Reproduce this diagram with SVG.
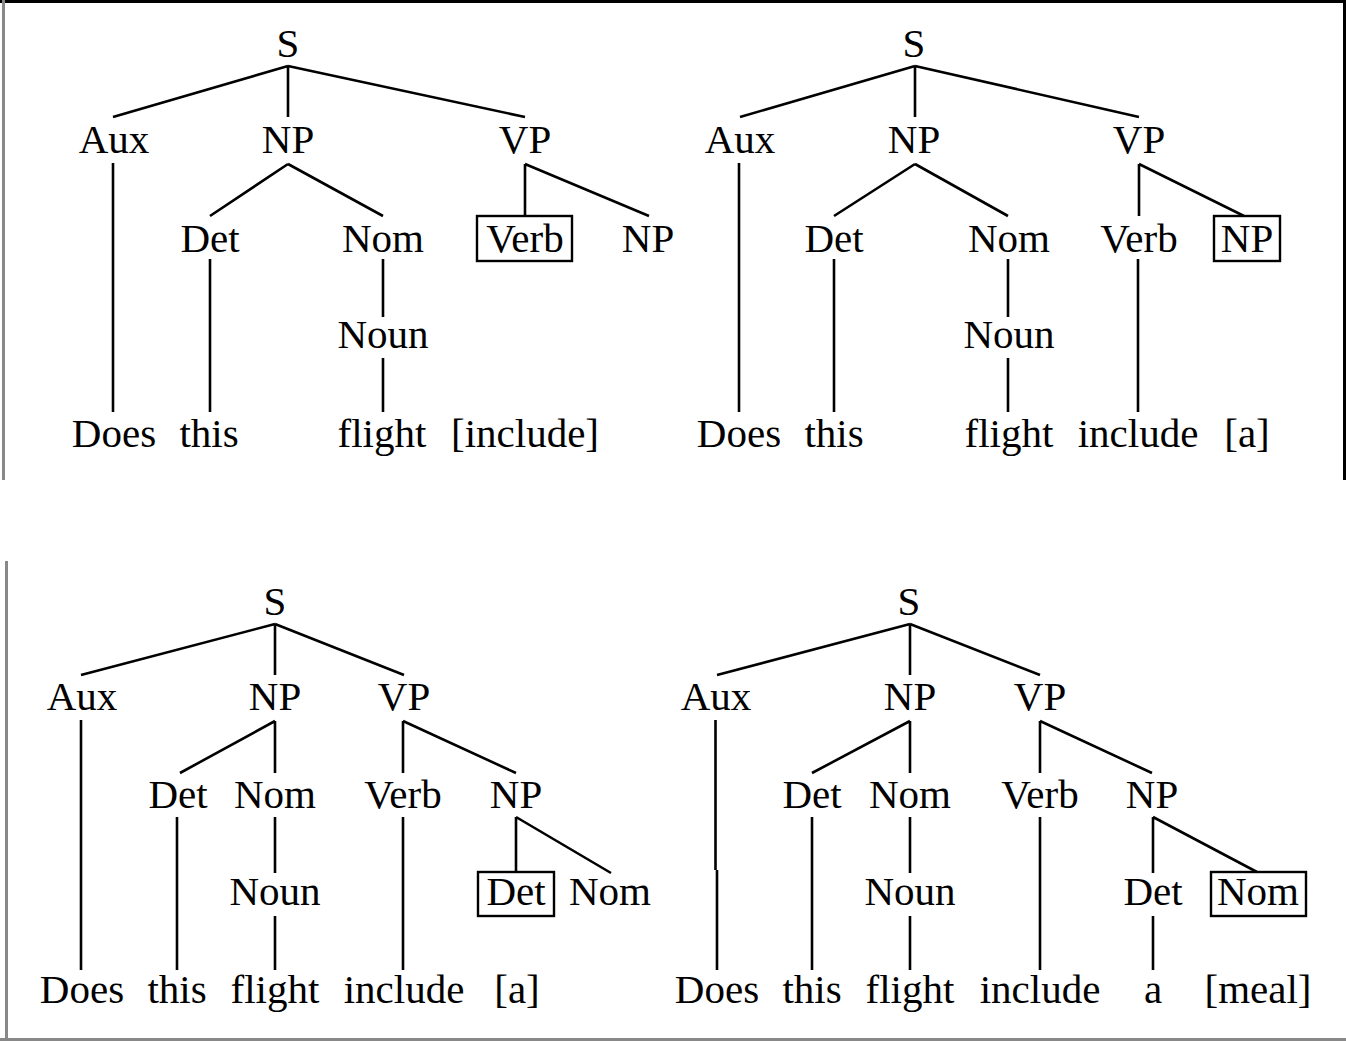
<svg xmlns="http://www.w3.org/2000/svg" width="1346" height="1041" viewBox="0 0 1346 1041">
<style>
text{font-family:"Liberation Serif","Times New Roman",serif;font-size:41px;fill:#000;text-anchor:middle}
.e{stroke:#000;stroke-width:2.6;fill:none;stroke-linecap:butt}
.box{stroke:#000;stroke-width:2.4;fill:none}
.bk{stroke:#000;stroke-width:3;fill:none}
.gr{stroke:#888;stroke-width:3;fill:none}
</style>
<rect width="1346" height="1041" fill="#fff"/>
<g id="frames">
<line class="bk" x1="0" y1="1.5" x2="1346" y2="1.5"/>
<line class="gr" x1="3.5" y1="0" x2="3.5" y2="480"/>
<line class="bk" x1="1344.5" y1="0" x2="1344.5" y2="480"/>
<line class="gr" x1="6.5" y1="561" x2="6.5" y2="1041"/>
<line class="gr" x1="0" y1="1039.5" x2="1346" y2="1039.5"/>
</g>
<g id="connectors">
<path class="e" d="M288 66L113 117M288 66V117M288 66L525 117"/>
<path class="e" d="M113 163V412"/>
<path class="e" d="M288 164L210 216M288 164L383 216"/>
<path class="e" d="M525 164V216M525 164L649 216"/>
<path class="e" d="M210 259V412M383 259V317M383 358V412"/>
<path class="e" d="M915 66L740 117M915 66V117M915 66L1139 117"/>
<path class="e" d="M739 163V412"/>
<path class="e" d="M915 164L834 216M915 164L1008 216"/>
<path class="e" d="M1139 164V216M1139 164L1244 216"/>
<path class="e" d="M834 259V412M1008 259V317M1008 358V412M1138 259V412"/>
<path class="e" d="M275 624L81 675M275 624V675M275 624L404 675"/>
<path class="e" d="M81 720V970"/>
<path class="e" d="M275 721L180 773M275 721V773"/>
<path class="e" d="M403 721V773M403 721L516 773"/>
<path class="e" d="M177 817V970M275 817V873M275 916V970M403 817V970"/>
<path class="e" d="M516 817V872M516 817L611 873"/>
<path class="e" d="M910 624L717 675M910 624V675M910 624L1040 675"/>
<path class="e" d="M715.5 720V870M717 870V970"/>
<path class="e" d="M910 721L812 773M910 721V773"/>
<path class="e" d="M1040 721V773M1040 721L1152 773"/>
<path class="e" d="M812 817V970M910 817V873M910 916V970M1040 817V970"/>
<path class="e" d="M1153 817V873M1153 817L1257 872M1153 916V970"/>
</g>
<g id="tree1">
<g id="t1-S"><text x="288" y="57">S</text></g>
<g id="t1-Aux"><text x="114" y="153">Aux</text></g>
<g id="t1-NP"><text x="288" y="153">NP</text></g>
<g id="t1-VP"><text x="525" y="153">VP</text></g>
<g id="t1-Det"><text x="210" y="252">Det</text></g>
<g id="t1-Nom"><text x="383" y="252">Nom</text></g>
<g id="t1-Verb"><rect class="box" x="477" y="216" width="95" height="45"/><text x="525" y="252">Verb</text></g>
<g id="t1-NP2"><text x="648" y="252">NP</text></g>
<g id="t1-Noun"><text x="383" y="348">Noun</text></g>
<g id="t1-w1"><text x="114" y="447">Does</text></g>
<g id="t1-w2"><text x="209" y="447">this</text></g>
<g id="t1-w3"><text x="382" y="447">flight</text></g>
<g id="t1-w4"><text x="525" y="447">[include]</text></g>
</g>
<g id="tree2">
<g id="t2-S"><text x="914" y="57">S</text></g>
<g id="t2-Aux"><text x="740" y="153">Aux</text></g>
<g id="t2-NP"><text x="914" y="153">NP</text></g>
<g id="t2-VP"><text x="1139" y="153">VP</text></g>
<g id="t2-Det"><text x="834" y="252">Det</text></g>
<g id="t2-Nom"><text x="1009" y="252">Nom</text></g>
<g id="t2-Verb"><text x="1139" y="252">Verb</text></g>
<g id="t2-NP2"><rect class="box" x="1214" y="216" width="66" height="45"/><text x="1247" y="252">NP</text></g>
<g id="t2-Noun"><text x="1009" y="348">Noun</text></g>
<g id="t2-w1"><text x="739" y="447">Does</text></g>
<g id="t2-w2"><text x="834" y="447">this</text></g>
<g id="t2-w3"><text x="1009" y="447">flight</text></g>
<g id="t2-w4"><text x="1138" y="447">include</text></g>
<g id="t2-w5"><text x="1247" y="447">[a]</text></g>
</g>
<g id="tree3">
<g id="t3-S"><text x="275" y="615">S</text></g>
<g id="t3-Aux"><text x="82" y="710">Aux</text></g>
<g id="t3-NP"><text x="275" y="710">NP</text></g>
<g id="t3-VP"><text x="404" y="710">VP</text></g>
<g id="t3-Det"><text x="178" y="808">Det</text></g>
<g id="t3-Nom"><text x="275" y="808">Nom</text></g>
<g id="t3-Verb"><text x="403" y="808">Verb</text></g>
<g id="t3-NP2"><text x="516" y="808">NP</text></g>
<g id="t3-Noun"><text x="275" y="905">Noun</text></g>
<g id="t3-Det2"><rect class="box" x="478" y="872" width="76" height="44"/><text x="516" y="905">Det</text></g>
<g id="t3-Nom2"><text x="610" y="905">Nom</text></g>
<g id="t3-w1"><text x="82" y="1003">Does</text></g>
<g id="t3-w2"><text x="177" y="1003">this</text></g>
<g id="t3-w3"><text x="275" y="1003">flight</text></g>
<g id="t3-w4"><text x="404" y="1003">include</text></g>
<g id="t3-w5"><text x="517" y="1003">[a]</text></g>
</g>
<g id="tree4">
<g id="t4-S"><text x="909" y="615">S</text></g>
<g id="t4-Aux"><text x="716" y="710">Aux</text></g>
<g id="t4-NP"><text x="910" y="710">NP</text></g>
<g id="t4-VP"><text x="1040" y="710">VP</text></g>
<g id="t4-Det"><text x="812" y="808">Det</text></g>
<g id="t4-Nom"><text x="910" y="808">Nom</text></g>
<g id="t4-Verb"><text x="1040" y="808">Verb</text></g>
<g id="t4-NP2"><text x="1152" y="808">NP</text></g>
<g id="t4-Noun"><text x="910" y="905">Noun</text></g>
<g id="t4-Det2"><text x="1153" y="905">Det</text></g>
<g id="t4-Nom2"><rect class="box" x="1211" y="872" width="95" height="44"/><text x="1258" y="905">Nom</text></g>
<g id="t4-w1"><text x="717" y="1003">Does</text></g>
<g id="t4-w2"><text x="812" y="1003">this</text></g>
<g id="t4-w3"><text x="910" y="1003">flight</text></g>
<g id="t4-w4"><text x="1040" y="1003">include</text></g>
<g id="t4-w5"><text x="1153" y="1003">a</text></g>
<g id="t4-w6"><text x="1258" y="1003">[meal]</text></g>
</g>
</svg>
